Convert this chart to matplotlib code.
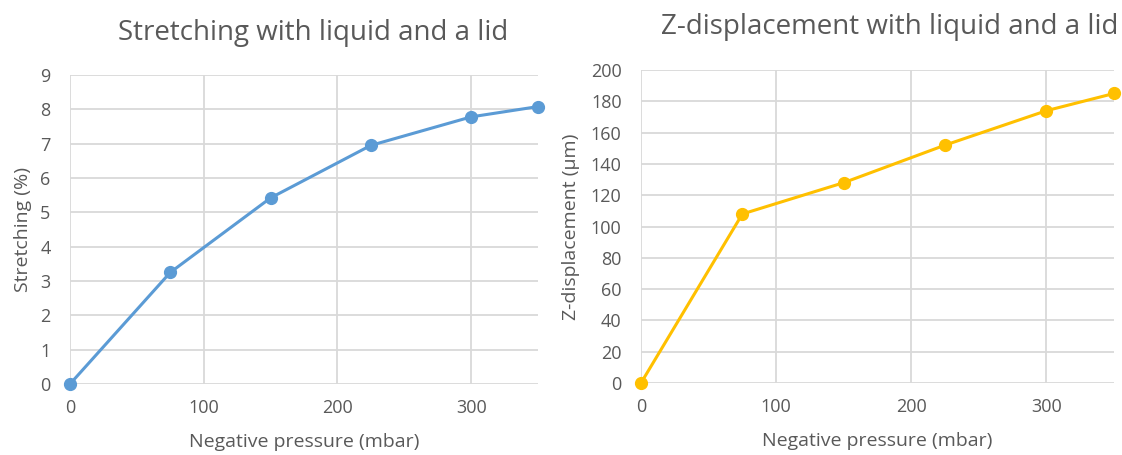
import matplotlib
matplotlib.use("Agg")
import matplotlib.pyplot as plt

# data
pressure = [0, 75, 150, 225, 300, 350]
stretching = [0, 3.25, 5.42, 6.95, 7.78, 8.08]
zdisp = [0, 108, 128, 152, 174, 185]

plt.rcParams['font.family'] = ['Open Sans', 'DejaVu Sans']
grey = '#595959'
gridc = '#d9d9d9'

fig = plt.figure(figsize=(11.22, 4.55), dpi=100)
W, H = 1122, 455


def box(l, t, r, b):
    return [l / W, 1 - b / H, (r - l) / W, (b - t) / H]


ax1 = fig.add_axes(box(70, 75, 538, 384))
ax2 = fig.add_axes(box(641, 70, 1114, 383))


def style(ax, ylim, yticks):
    ax.set_xlim(0, 350)
    ax.set_ylim(*ylim)
    ax.set_xticks([0, 100, 200, 300])
    ax.set_yticks(yticks)
    ax.grid(True, color=gridc, linewidth=1.3)
    ax.set_axisbelow(True)
    for s in ax.spines.values():
        s.set_visible(False)
    ax.tick_params(length=0, labelsize=13, labelcolor=grey)
    ax.tick_params(axis='x', pad=11)
    ax.tick_params(axis='y', pad=14)
    ax.set_xlabel('Negative pressure (mbar)', fontsize=14, color=grey, labelpad=11)


ax1.plot(pressure, stretching, color='#5b9bd5', linewidth=2.2, marker='o',
         markersize=8.5, clip_on=False, zorder=3)
style(ax1, (0, 9), range(0, 10))
ax1.set_ylabel('Stretching (%)', fontsize=14, color=grey, labelpad=6)
fig.text(313 / W, 1 - 33 / H, 'Stretching with liquid and a lid', fontsize=20,
         color=grey, ha='center', va='center')

ax2.plot(pressure, zdisp, color='#ffc000', linewidth=2.2, marker='o',
         markersize=8.5, clip_on=False, zorder=3)
style(ax2, (0, 200), range(0, 201, 20))
ax2.set_ylabel('Z-displacement (µm)', fontsize=14, color=grey, labelpad=8)
fig.text(890 / W, 1 - 27 / H, 'Z-displacement with liquid and a lid', fontsize=20,
         color=grey, ha='center', va='center')

fig.savefig('out.png', dpi=100)
